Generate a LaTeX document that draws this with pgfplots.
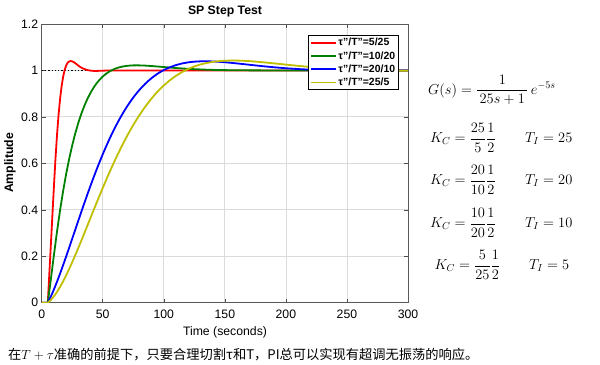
\RequirePackage{fix-cm}
\documentclass[border=0pt]{standalone}
\usepackage{fontspec}
\setmainfont{Liberation Sans}
\newfontfamily\cjk{Noto Sans CJK SC}
\usepackage{pgfplots}
\pgfplotsset{compat=1.18}
\definecolor{myyellow}{rgb}{0.75,0.75,0}
\definecolor{mygreen}{rgb}{0,0.5,0}
\definecolor{gridgray}{rgb}{0.86,0.86,0.86}
\begin{document}
\begin{tikzpicture}[x=1bp,y=1bp]
\path[use as bounding box] (0,0) rectangle (600,364);
\begin{axis}[
  at={(41.7bp,61.3bp)}, anchor=south west,
  width=366.3bp, height=278.7bp, scale only axis,
  xmin=0, xmax=300, ymin=0, ymax=1.2,
  xtick={0,50,100,150,200,250,300},
  xticklabels={0,50,100,150,200,250,300},
  ytick={0,0.2,0.4,0.6,0.8,1,1.2},
  yticklabels={0,0.2,0.4,0.6,0.8,1,1.2},
  tick label style={font=\fontsize{12.3}{14}\selectfont},
  xticklabel style={yshift=-4bp},
  tick align=inside, major tick length=4bp,
  every tick/.style={black!70, line width=0.6bp},
  axis line style={black!65, line width=0.8bp},
  grid=major,
  major grid style={gridgray, line width=0.8bp},
  legend style={at={(axis description cs:0.727,0.9605)}, anchor=north west,
    draw=black, line width=0.9bp, fill=white,
    font=\fontsize{10.5}{12}\selectfont\bfseries,
    inner xsep=2bp, inner ysep=1.5bp, row sep=1.8bp,
    nodes={inner sep=1.2bp}},
  legend cell align=left,
  legend image code/.code={\draw[#1, line width=1.8bp] (0bp,0bp) -- (25bp,0bp);},
]
\addplot[black, dotted, line width=1.3bp, forget plot] coordinates {(0,1)(300,1)};
\addplot[red, line width=1.8bp] coordinates {
(0,0)(5,0)(6.25,0.125)(7.5,0.25)(8.75,0.375)(10,0.5)(11.25,0.617)(12.5,0.719)(13.75,0.805)(15,0.875)(16.25,0.930)(17.5,0.971)(18.75,1.001)(20,1.021)(21.25,1.033)(22.5,1.039)(23.7,1.0405)(25,1.039)(26.25,1.036)(27.5,1.031)(28.75,1.026)(30,1.021)(31.25,1.016)(32.5,1.012)(33.75,1.009)(35,1.006)(37.5,1.0015)(40,0.9993)(42.5,0.998)(45,0.998)(50,0.999)(55,1.0)(300,1)};
\addlegendentry{τ"/T"=5/25}
\addplot[mygreen, line width=1.8bp] coordinates {
(0,0)(5,0)(7.5,0.1011)(10,0.2045)(12.5,0.3048)(15,0.3966)(17.5,0.4793)(20,0.5534)(22.5,0.6193)(25,0.6777)(27.5,0.7292)(30,0.7745)(32.5,0.8141)(35,0.8485)(37.5,0.8783)(40,0.9040)(42.5,0.9260)(45,0.9448)(47.5,0.9606)(50,0.9739)(52.5,0.9849)(55,0.9940)(57.5,1.0013)(60,1.0072)(62.5,1.0119)(65,1.0154)(67.5,1.0180)(70,1.0199)(72.5,1.0211)(75,1.0218)(77.5,1.0220)(80,1.0218)(85,1.0208)(90,1.0190)(95,1.0169)(100,1.0147)(105,1.0125)(110,1.0104)(115,1.0085)(120,1.0069)(125,1.0055)(130,1.0043)(135,1.0033)(140,1.0025)(145,1.0019)(150,1.0014)(160,1.0008)(170,1.0004)(180,1.0002)(200,1.0)(300,1.0)};
\addlegendentry{τ"/T"=10/20}
\addplot[blue, line width=1.8bp] coordinates {
(0,0)(5,0)(7.5,0.0268)(10,0.0569)(12.5,0.0898)(15,0.1247)(17.5,0.1611)(20,0.1986)(22.5,0.2369)(25,0.2757)(27.5,0.3147)(30,0.3535)(32.5,0.3921)(35,0.4301)(37.5,0.4675)(40,0.5040)(42.5,0.5395)(45,0.5739)(47.5,0.6071)(50,0.6391)(52.5,0.6698)(55,0.6991)(57.5,0.7271)(60,0.7536)(62.5,0.7787)(65,0.8024)(67.5,0.8247)(70,0.8456)(72.5,0.8652)(75,0.8834)(77.5,0.9003)(80,0.9160)(82.5,0.9304)(85,0.9437)(87.5,0.9559)(90,0.9670)(92.5,0.9771)(95,0.9862)(97.5,0.9944)(100,1.0017)(105,1.0139)(110,1.0232)(115,1.0301)(120,1.0349)(125,1.0378)(130,1.0393)(135,1.0395)(140,1.0388)(145,1.0373)(150,1.0353)(155,1.0329)(160,1.0302)(165,1.0274)(170,1.0245)(175,1.0217)(180,1.0189)(185,1.0163)(190,1.0138)(195,1.0116)(200,1.0095)(205,1.0077)(210,1.0060)(215,1.0046)(220,1.0033)(225,1.0023)(230,1.0014)(235,1.0006)(240,1.0000)(250,0.9993)(260,0.9990)(270,0.9990)(280,0.9992)(290,0.9994)(300,0.9996)};
\addlegendentry{τ"/T"=20/10}
\addplot[myyellow, line width=1.8bp] coordinates {
(0,0)(5,0)(7.5,0.0119)(10,0.0274)(12.5,0.0461)(15,0.0677)(17.5,0.0916)(20,0.1176)(22.5,0.1453)(25,0.1745)(27.5,0.2049)(30,0.2361)(32.5,0.2680)(35,0.3004)(37.5,0.3330)(40,0.3657)(42.5,0.3983)(45,0.4307)(47.5,0.4627)(50,0.4942)(52.5,0.5251)(55,0.5553)(57.5,0.5848)(60,0.6134)(62.5,0.6411)(65,0.6679)(67.5,0.6937)(70,0.7185)(72.5,0.7423)(75,0.7651)(77.5,0.7867)(80,0.8074)(82.5,0.8269)(85,0.8454)(87.5,0.8629)(90,0.8794)(92.5,0.8949)(95,0.9093)(97.5,0.9229)(100,0.9355)(105,0.9580)(110,0.9771)(115,0.9932)(120,1.0065)(125,1.0172)(130,1.0257)(135,1.0321)(140,1.0368)(145,1.0400)(150,1.0419)(155,1.0426)(160,1.0425)(165,1.0416)(170,1.0401)(175,1.0381)(180,1.0358)(185,1.0333)(190,1.0306)(195,1.0279)(200,1.0251)(205,1.0224)(210,1.0198)(215,1.0173)(220,1.0149)(225,1.0127)(230,1.0107)(235,1.0088)(240,1.0071)(245,1.0056)(250,1.0043)(255,1.0031)(260,1.0021)(265,1.0012)(270,1.0005)(280,0.9996)(290,0.9991)(300,0.9989)};
\addlegendentry{τ"/T"=25/5}
\end{axis}
\node[font=\fontsize{12.3}{14}\selectfont\bfseries] at (225,353) {SP Step Test};
\node[font=\fontsize{12.3}{14}\selectfont] at (225,32) {Time (seconds)};
\node[font=\fontsize{12.3}{14}\selectfont\bfseries, rotate=90] at (10,201) {Amplitude};
\begin{scope}[every node/.style={inner sep=0pt, font=\fontsize{14.5}{16}\selectfont}]
\node[anchor=west] at (428,274) {$\displaystyle G(s)=\frac{\,1\,}{\,25s+1\,}\,e^{-5s}$};
\node[anchor=west] at (430,226) {\makebox[95bp][l]{$\displaystyle K_C=\frac{25}{5}\frac{1}{2}$}$T_I=25$};
\node[anchor=west] at (430,184) {\makebox[95bp][l]{$\displaystyle K_C=\frac{20}{10}\frac{1}{2}$}$T_I=20$};
\node[anchor=west] at (430,141) {\makebox[95bp][l]{$\displaystyle K_C=\frac{10}{20}\frac{1}{2}$}$T_I=10$};
\node[anchor=west] at (434.5,99) {\makebox[94.5bp][l]{$\displaystyle K_C=\frac{5}{25}\frac{1}{2}$}$T_I=5$};
\end{scope}
\node[anchor=west, inner sep=0pt, font=\fontsize{13.3}{15}\selectfont\cjk] at (8,9) {在$T+\tau$准确的前提下，只要合理切割τ和T，PI总可以实现有超调无振荡的响应。};
\end{tikzpicture}
\end{document}
